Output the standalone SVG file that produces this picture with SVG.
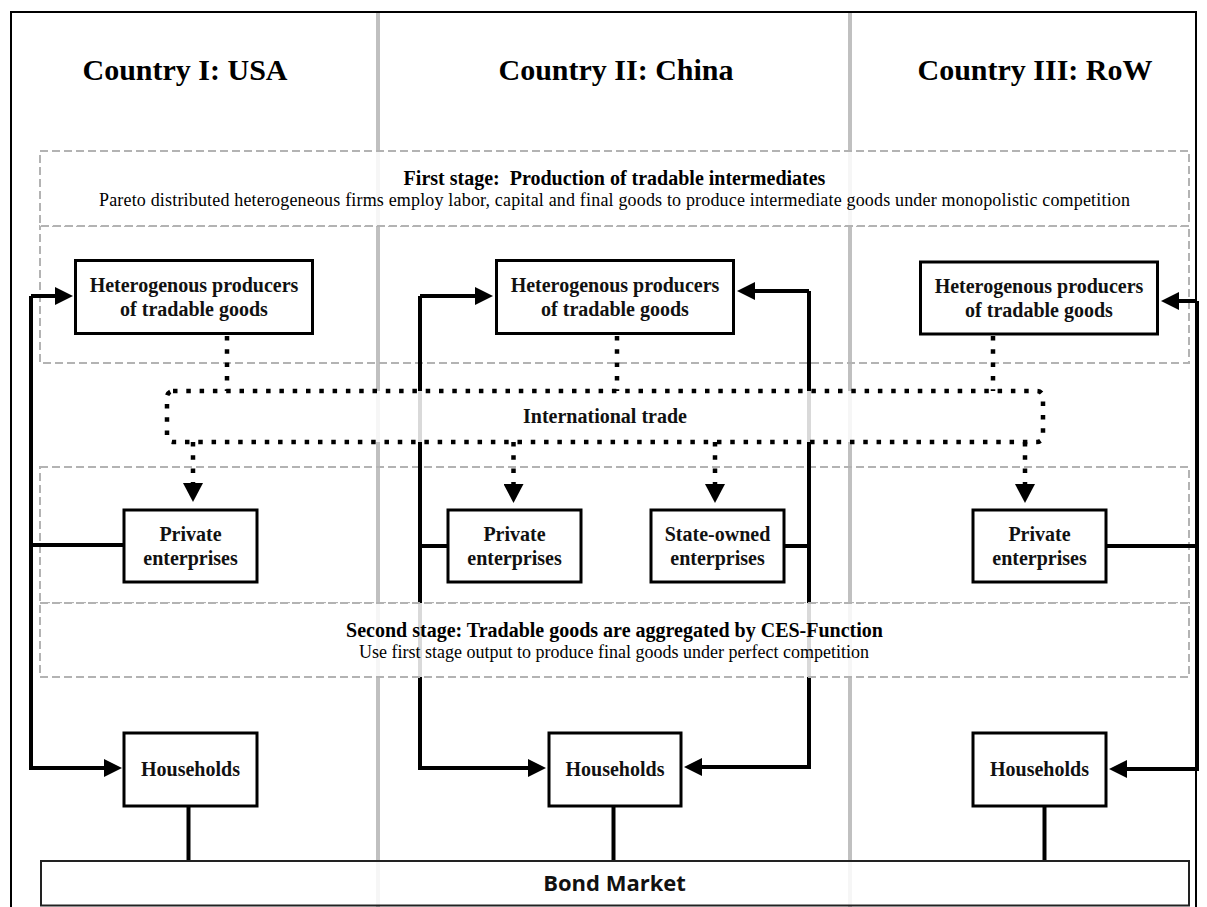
<svg xmlns="http://www.w3.org/2000/svg" width="1207" height="907" viewBox="0 0 1207 907">
<style>
.title{font-family:"Liberation Serif","Times New Roman",serif;font-weight:bold;font-size:30px;fill:#000;text-anchor:middle}
.node{fill:#fff;stroke:#000;stroke-width:3}
.nt{font-family:"Liberation Serif","Times New Roman",serif;font-weight:bold;font-size:20px;fill:#111;text-anchor:middle}
.st{font-family:"Liberation Serif","Times New Roman",serif;font-weight:bold;font-size:20px;fill:#000;text-anchor:middle}
.sr{font-family:"Liberation Serif","Times New Roman",serif;font-size:18px;fill:#000;text-anchor:middle}
.dash{stroke:#b3b3b3;stroke-width:2;stroke-dasharray:8 4}
.veil{fill:#fff;fill-opacity:0.85}
.sep{stroke:#c0c0c0;stroke-width:4}
.thick{fill:none;stroke:#000;stroke-width:4;stroke-linejoin:miter}
.dot{fill:none;stroke:#000;stroke-width:4.5;stroke-dasharray:4.5 8.8}
</style>
<defs>
<marker id="arr" viewBox="0 0 18 18" refX="8" refY="9" markerWidth="18" markerHeight="18" markerUnits="userSpaceOnUse" orient="auto">
<path d="M0,0 L18,9 L0,18 z" fill="#000"/>
</marker>
<marker id="arrd" viewBox="0 0 19 20" refX="0" refY="10" markerWidth="19" markerHeight="20" markerUnits="userSpaceOnUse" orient="auto">
<path d="M0,0 L19,10 L0,20 z" fill="#000"/>
</marker>
</defs>
<rect x="0" y="0" width="1207" height="907" fill="#fff"/>
<g id="frame">
<rect x="11" y="12" width="1185" height="905" fill="none" stroke="#000" stroke-width="2"/>
<line class="sep" x1="378" y1="13" x2="378" y2="907"/>
<line class="sep" x1="850" y1="13" x2="850" y2="907"/>
</g>
<g id="titles">
<text class="title" x="185" y="80">Country I: USA</text>
<text class="title" x="616" y="80">Country II: China</text>
<text class="title" x="1035" y="80">Country III: RoW</text>
</g>
<g id="production-area">
<rect class="dash" x="40" y="226" width="1149" height="137" fill="none"/>
</g>
<g id="enterprise-area">
<rect class="dash" x="40" y="467" width="1149" height="136" fill="none"/>
</g>
<g id="connectors">
<path class="thick" d="M31,296 V768 H112" marker-end="url(#arr)"/>
<path class="thick" d="M31,296 H63" marker-end="url(#arr)"/>
<path class="thick" d="M123,545 H31"/>
<path class="thick" d="M420,296 V768 H536" marker-end="url(#arr)"/>
<path class="thick" d="M420,296 H483" marker-end="url(#arr)"/>
<path class="thick" d="M447,546 H420"/>
<path class="thick" d="M809,291 V767 H694" marker-end="url(#arr)"/>
<path class="thick" d="M809,291 H747" marker-end="url(#arr)"/>
<path class="thick" d="M785,546 H809"/>
<path class="thick" d="M1197,301 V769 H1119" marker-end="url(#arr)"/>
<path class="thick" d="M1197,301 H1171" marker-end="url(#arr)"/>
<path class="thick" d="M1107,546 H1197"/>
<path class="thick" d="M188.5,807 V861"/>
<path class="thick" d="M613.5,807 V861"/>
<path class="thick" d="M1044.5,807 V861"/>
<path class="dot" d="M227,336 V391"/>
<path class="dot" d="M617,336 V391"/>
<path class="dot" d="M993,336 V391"/>
<path class="dot" d="M193,442 V483" marker-end="url(#arrd)"/>
<path class="dot" d="M513.5,442 V484" marker-end="url(#arrd)"/>
<path class="dot" d="M715,442 V484" marker-end="url(#arrd)"/>
<path class="dot" d="M1025,442 V484" marker-end="url(#arrd)"/>
</g>
<g id="first-stage">
<rect class="dash veil" x="40" y="151" width="1149" height="75"/>
<text class="st" x="614.5" y="185" xml:space="preserve">First stage:  Production of tradable intermediates</text>
<text class="sr" x="614.5" y="206" textLength="1031" lengthAdjust="spacing">Pareto distributed heterogeneous firms employ labor, capital and final goods to produce intermediate goods under monopolistic competition</text>
</g>
<g id="second-stage">
<rect class="dash veil" x="40" y="603" width="1149" height="74"/>
<text class="st" x="614.5" y="637">Second stage: Tradable goods are aggregated by CES-Function</text>
<text class="sr" x="614" y="658">Use first stage output to produce final goods under perfect competition</text>
</g>
<g id="international-trade">
<rect class="veil" x="167" y="391" width="876" height="51" rx="6" stroke="#000" stroke-width="4.5" stroke-dasharray="4.5 8.8"/>
<text class="nt" x="605" y="423">International trade</text>
</g>
<g id="producers-usa">
<rect class="node" x="75.5" y="260.5" width="237" height="73"/>
<text class="nt" x="194" y="292">Heterogenous producers</text>
<text class="nt" x="194" y="316">of tradable goods</text>
</g>
<g id="producers-china">
<rect class="node" x="496.5" y="260.5" width="237" height="73"/>
<text class="nt" x="615" y="292">Heterogenous producers</text>
<text class="nt" x="615" y="316">of tradable goods</text>
</g>
<g id="producers-row">
<rect class="node" x="920.5" y="262" width="237" height="72"/>
<text class="nt" x="1039" y="293">Heterogenous producers</text>
<text class="nt" x="1039" y="317">of tradable goods</text>
</g>
<g id="private-usa">
<rect class="node" x="124" y="510" width="133" height="72"/>
<text class="nt" x="190.5" y="541">Private</text>
<text class="nt" x="190.5" y="565">enterprises</text>
</g>
<g id="private-china">
<rect class="node" x="448" y="510" width="133" height="72"/>
<text class="nt" x="514.5" y="541">Private</text>
<text class="nt" x="514.5" y="565">enterprises</text>
</g>
<g id="soe-china">
<rect class="node" x="651" y="510" width="133" height="72"/>
<text class="nt" x="717.5" y="541">State-owned</text>
<text class="nt" x="717.5" y="565">enterprises</text>
</g>
<g id="private-row">
<rect class="node" x="973" y="510" width="133" height="72"/>
<text class="nt" x="1039.5" y="541">Private</text>
<text class="nt" x="1039.5" y="565">enterprises</text>
</g>
<g id="households-usa">
<rect class="node" x="124" y="733" width="133" height="73"/>
<text class="nt" x="190.5" y="776">Households</text>
</g>
<g id="households-china">
<rect class="node" x="549" y="733" width="132" height="73"/>
<text class="nt" x="615" y="776">Households</text>
</g>
<g id="households-row">
<rect class="node" x="973" y="733" width="133" height="73"/>
<text class="nt" x="1039.5" y="776">Households</text>
</g>
<g id="bond-market">
<rect class="veil" x="41" y="861" width="1148" height="44.5" stroke="#222" stroke-width="2"/>
<text x="614.5" y="891" text-anchor="middle" font-family="'Open Sans','Liberation Sans',sans-serif" font-weight="bold" font-size="22" fill="#111">Bond Market</text>
</g>
</svg>
